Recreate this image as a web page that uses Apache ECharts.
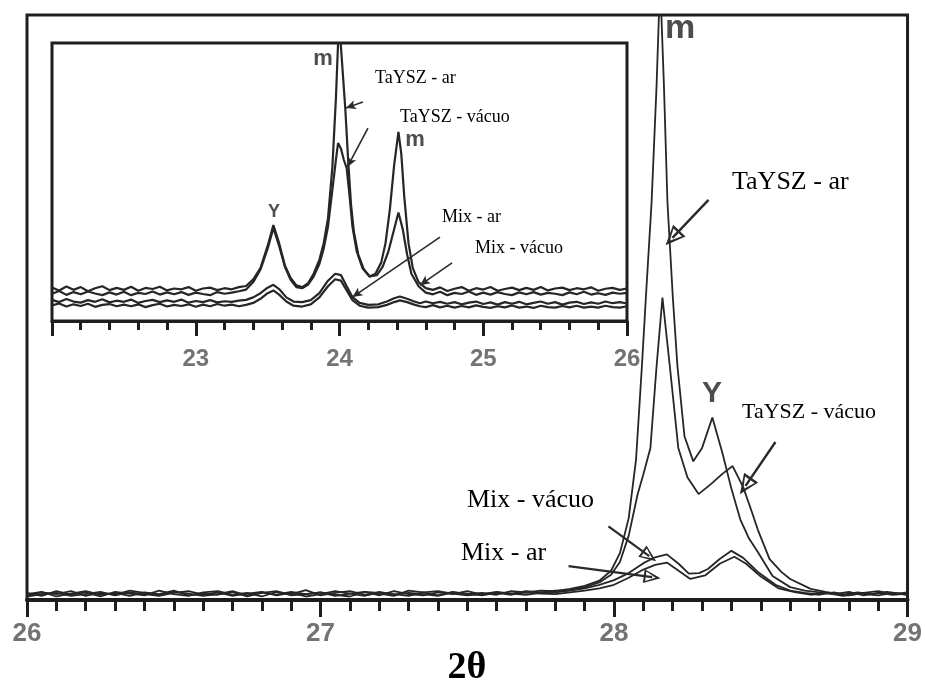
<!DOCTYPE html>
<html>
<head>
<meta charset="utf-8">
<script src="https://cdn.jsdelivr.net/npm/echarts@6.0.0/dist/echarts.min.js"></script>
<style>html,body{margin:0;padding:0;background:#fff;}#c{width:925px;height:691px;}</style>
</head>
<body>
<div id="c"></div>
<script>
// ---------- Main panel (2θ 26–29) ----------
const mainTaYSZAr = [
[26.00,1.2],[26.05,0.7],[26.10,1.5],[26.15,0.9],[26.20,1.3],[26.25,0.6],[26.30,1.4],[26.35,1.1],[26.40,0.8],[26.45,1.6],[26.50,1.0],[26.55,0.7],[26.60,1.3],[26.65,1.5],[26.70,0.9],[26.75,1.2],[26.80,0.6],[26.85,1.4],[26.90,1.0],[26.95,1.7],[27.00,0.8],[27.05,1.2],[27.10,1.5],[27.15,0.9],[27.20,1.1],[27.25,0.7],[27.30,1.6],[27.35,1.3],[27.40,0.8],[27.45,1.4],[27.50,1.0],[27.55,1.2],[27.60,0.9],[27.65,1.5],[27.70,1.3],[27.75,1.6],
[27.80,1.5],[27.85,1.9],[27.90,2.4],[27.95,3.3],[27.99,5.0],[28.02,8.0],[28.05,14],[28.075,24],[28.095,40],[28.11,53],[28.128,68],[28.145,88],[28.157,106],[28.17,88],[28.182,68],[28.20,52],[28.216,40],[28.24,28],[28.27,23.7],[28.30,26],[28.335,31.2],[28.37,25],[28.40,19],[28.43,13.8],[28.46,10.5],[28.49,8.2],[28.54,4.1],[28.60,2.2],[28.65,1.6],[28.70,1.3],[28.75,1.0],[28.80,1.4],[28.85,0.8],[28.90,1.2],[28.95,0.9],[29.00,1.1]
];
const mainTaYSZVac = [
[26.00,0.8],[26.05,1.3],[26.10,1.0],[26.15,1.5],[26.20,0.7],[26.25,1.2],[26.30,0.9],[26.35,1.6],[26.40,1.2],[26.45,0.8],[26.50,1.4],[26.55,1.1],[26.60,0.7],[26.65,1.0],[26.70,1.5],[26.75,0.8],[26.80,1.3],[26.85,0.9],[26.90,1.4],[26.95,1.0],[27.00,1.3],[27.05,0.7],[27.10,1.1],[27.15,1.4],[27.20,0.8],[27.25,1.5],[27.30,1.0],[27.35,0.8],[27.40,1.3],[27.45,1.0],[27.50,1.5],[27.55,0.9],[27.60,1.3],[27.65,1.1],[27.70,1.5],[27.75,1.3],
[27.80,1.6],[27.85,1.7],[27.90,2.2],[27.95,3.0],[27.99,4.3],[28.02,6.5],[28.05,11],[28.08,18],[28.10,21.5],[28.124,26],[28.145,40],[28.165,51.7],[28.19,40],[28.219,26],[28.25,21],[28.288,18.1],[28.33,19.8],[28.37,21.6],[28.404,22.9],[28.44,19.3],[28.47,15],[28.49,12],[28.53,7],[28.57,4.8],[28.60,3.6],[28.67,1.9],[28.72,1.4],[28.78,0.9],[28.83,1.3],[28.88,1.0],[28.93,1.4],[29.00,0.9]
];
const mainMixVac = [
[26.00,1.0],[26.05,1.4],[26.10,0.6],[26.15,1.1],[26.20,1.5],[26.25,0.9],[26.30,1.2],[26.35,0.7],[26.40,1.3],[26.45,1.0],[26.50,1.6],[26.55,0.8],[26.60,1.1],[26.65,0.9],[26.70,1.4],[26.75,0.6],[26.80,1.2],[26.85,1.5],[26.90,0.8],[26.95,1.0],[27.00,1.3],[27.05,0.9],[27.10,0.6],[27.15,1.4],[27.20,1.2],[27.25,1.0],[27.30,0.7],[27.35,1.3],[27.40,1.5],[27.45,1.1],[27.50,0.8],[27.55,1.0],[27.60,1.4],[27.65,1.1],[27.70,0.9],[27.75,1.2],
[27.80,1.3],[27.85,1.6],[27.90,2.0],[27.95,2.6],[28.00,3.4],[28.05,4.6],[28.10,6.3],[28.14,7.3],[28.18,7.8],[28.22,6.2],[28.255,4.5],[28.29,4.6],[28.32,5.3],[28.36,7.0],[28.40,8.4],[28.44,7.2],[28.49,4.8],[28.55,2.6],[28.60,1.6],[28.65,1.2],[28.70,0.9],[28.75,1.3],[28.80,0.8],[28.85,1.2],[28.90,1.5],[28.95,1.0],[29.00,1.3]
];
const mainMixAr = [
[26.00,0.6],[26.05,1.0],[26.10,1.2],[26.15,0.7],[26.20,1.0],[26.25,1.4],[26.30,0.8],[26.35,1.3],[26.40,1.0],[26.45,0.7],[26.50,1.2],[26.55,1.5],[26.60,0.9],[26.65,1.3],[26.70,0.7],[26.75,1.1],[26.80,1.4],[26.85,0.8],[26.90,1.2],[26.95,0.6],[27.00,1.0],[27.05,1.5],[27.10,1.1],[27.15,0.7],[27.20,1.4],[27.25,0.9],[27.30,1.2],[27.35,1.0],[27.40,0.7],[27.45,1.3],[27.50,1.1],[27.55,0.8],[27.60,1.2],[27.65,0.9],[27.70,1.3],[27.75,1.1],
[27.80,1.0],[27.85,1.3],[27.90,1.6],[27.95,2.0],[28.00,2.6],[28.05,3.8],[28.10,5.2],[28.14,6.0],[28.18,6.4],[28.22,5.0],[28.26,3.6],[28.31,4.2],[28.36,6.2],[28.41,7.4],[28.45,6.2],[28.50,4.0],[28.56,2.0],[28.62,1.3],[28.67,0.9],[28.72,1.2],[28.78,0.7],[28.84,1.1],[28.90,0.8],[28.95,1.2],[29.00,0.9]
];

// ---------- Inset panel (2θ 22–26) ----------
const insetTaYSZAr = [
[22.00,12.0],[22.05,11.0],[22.10,12.4],[22.15,11.2],[22.20,12.2],[22.25,10.7],[22.30,11.8],[22.35,12.5],[22.40,11.1],[22.45,11.9],[22.50,11.2],[22.55,12.3],[22.60,10.9],[22.65,11.9],[22.70,11.5],[22.75,12.3],[22.80,11.0],[22.85,11.7],[22.90,11.4],[22.95,12.2],[23.00,10.9],[23.05,11.7],[23.10,12.0],[23.15,11.1],[23.20,11.8],[23.25,11.4],[23.30,12.2],[23.35,12.6],
[23.40,15],[23.45,19],[23.50,27],[23.54,34.5],[23.58,28],[23.62,20],[23.66,15.5],[23.70,12.8],[23.74,12.2],[23.78,13.5],[23.82,17],[23.86,22],[23.89,28],[23.92,37],[23.95,55],[23.975,80],[23.99,100],[24.00,106],[24.015,95],[24.04,76.6],[24.06,58],[24.08,42],[24.10,32],[24.13,24],[24.17,18.5],[24.21,16],[24.25,17],[24.29,21],[24.32,28],[24.35,40],[24.38,56],[24.41,68],[24.43,60],[24.45,45],[24.48,28],[24.51,19],[24.55,14],
[24.60,11.8],[24.65,11.2],[24.70,12.1],[24.75,10.8],[24.80,11.6],[24.85,12.2],[24.90,10.9],[24.95,11.8],[25.00,11.3],[25.05,12.2],[25.10,10.9],[25.15,11.5],[25.20,12.0],[25.25,11.1],[25.30,11.9],[25.35,11.2],[25.40,12.2],[25.45,11.0],[25.50,11.7],[25.55,12.0],[25.60,11.1],[25.65,11.8],[25.70,11.4],[25.75,12.1],[25.80,10.9],[25.85,11.6],[25.90,11.9],[25.95,11.2],[26.00,11.7]
];
const insetTaYSZVac = [
[22.00,9.8],[22.05,10.8],[22.10,9.4],[22.15,10.4],[22.20,9.6],[22.25,10.6],[22.30,9.9],[22.35,9.3],[22.40,10.3],[22.45,9.5],[22.50,10.5],[22.55,9.3],[22.60,10.1],[22.65,9.7],[22.70,10.6],[22.75,9.5],[22.80,10.3],[22.85,9.6],[22.90,10.4],[22.95,9.4],[23.00,10.2],[23.05,9.7],[23.10,9.3],[23.15,10.4],[23.20,9.8],[23.25,10.2],[23.30,10.7],[23.35,11.3],
[23.40,14],[23.45,18.5],[23.50,26],[23.54,33.5],[23.58,27],[23.62,19.5],[23.66,14.8],[23.70,12.2],[23.74,11.8],[23.78,13],[23.82,16],[23.86,20.5],[23.89,26],[23.92,34],[23.95,47],[23.975,58],[23.99,64],[24.01,62],[24.03,58],[24.05,55],[24.07,45],[24.09,34],[24.12,25],[24.16,19],[24.21,16],[24.26,16.5],[24.30,19.5],[24.34,25],[24.38,33],[24.41,39],[24.44,33],[24.47,24],[24.50,17],[24.55,12.5],
[24.60,10.2],[24.65,9.6],[24.70,10.5],[24.75,9.3],[24.80,10.1],[24.85,9.7],[24.90,10.6],[24.95,9.4],[25.00,10.2],[25.05,9.5],[25.10,10.4],[25.15,9.7],[25.20,9.3],[25.25,10.3],[25.30,9.6],[25.35,10.4],[25.40,9.5],[25.45,10.1],[25.50,9.8],[25.55,9.3],[25.60,10.3],[25.65,9.6],[25.70,10.5],[25.75,9.5],[25.80,10.0],[25.85,9.4],[25.90,10.2],[25.95,9.8],[26.00,10.1]
];
const insetMixAr = [
[22.00,7.6],[22.05,6.8],[22.10,7.9],[22.15,7.0],[22.20,6.6],[22.25,7.5],[22.30,6.9],[22.35,7.8],[22.40,6.7],[22.45,7.3],[22.50,6.9],[22.55,7.7],[22.60,6.5],[22.65,7.2],[22.70,7.6],[22.75,6.8],[22.80,7.4],[22.85,6.9],[22.90,7.7],[22.95,6.6],[23.00,7.2],[23.05,6.8],[23.10,7.5],[23.15,6.7],[23.20,7.1],[23.25,6.9],[23.30,7.3],[23.35,7.6],
[23.40,8.5],[23.45,10],[23.50,12],[23.54,13],[23.58,11.5],[23.63,8.5],[23.68,7],[23.74,6.8],[23.80,7.5],[23.86,10],[23.92,14.5],[23.97,17],[24.01,16.5],[24.05,12.5],[24.09,8.6],[24.14,6.5],[24.20,5.8],[24.27,6],[24.33,7],[24.38,8.2],[24.42,8.8],[24.47,8],[24.52,7],[24.56,6.4],
[24.60,7.0],[24.65,6.4],[24.70,6.9],[24.75,6.2],[24.80,6.8],[24.85,6.0],[24.90,6.6],[24.95,7.0],[25.00,6.1],[25.05,6.7],[25.10,5.9],[25.15,6.8],[25.20,6.2],[25.25,6.9],[25.30,6.0],[25.35,6.5],[25.40,7.0],[25.45,6.2],[25.50,6.8],[25.55,5.9],[25.60,6.6],[25.65,6.9],[25.70,6.1],[25.75,6.7],[25.80,6.2],[25.85,7.0],[25.90,6.4],[25.95,6.8],[26.00,6.3]
];
const insetMixVac = [
[22.00,5.6],[22.05,6.3],[22.10,5.2],[22.15,6.0],[22.20,5.4],[22.25,6.2],[22.30,5.1],[22.35,5.8],[22.40,6.1],[22.45,5.3],[22.50,5.9],[22.55,5.3],[22.60,6.0],[22.65,5.0],[22.70,5.7],[22.75,6.2],[22.80,5.2],[22.85,5.8],[22.90,5.4],[22.95,6.0],[23.00,5.1],[23.05,5.9],[23.10,5.3],[23.15,6.1],[23.20,5.5],[23.25,5.9],[23.30,5.3],[23.35,5.8],
[23.40,6.5],[23.45,8],[23.50,10],[23.54,11],[23.58,9.5],[23.63,7],[23.68,5.5],[23.74,5.2],[23.80,6],[23.86,8.5],[23.92,12.5],[23.97,15],[24.01,14.5],[24.05,11],[24.09,7.5],[24.14,5.5],[24.20,4.8],[24.27,5],[24.33,5.8],[24.38,6.8],[24.42,7.4],[24.47,6.8],[24.52,5.9],[24.56,5.3],
[24.60,5.0],[24.65,5.7],[24.70,4.9],[24.75,5.5],[24.80,4.8],[24.85,5.4],[24.90,4.9],[24.95,5.6],[25.00,5.1],[25.05,4.7],[25.10,5.3],[25.15,4.9],[25.20,5.6],[25.25,4.8],[25.30,5.2],[25.35,4.7],[25.40,5.5],[25.45,5.0],[25.50,4.8],[25.55,5.4],[25.60,4.9],[25.65,5.5],[25.70,4.8],[25.75,5.2],[25.80,4.8],[25.85,5.5],[25.90,5.0],[25.95,4.8],[26.00,5.3]
];

// Axis tick values
const mainTicks = [26, 27, 28, 29];
const insetTicks = [23, 24, 25, 26];

// Annotation arrows (data coordinates: [from, to])
const mainArrowTaYSZAr  = [[28.322, 68.4], [28.199, 61.9]];
const mainArrowTaYSZVac = [[28.550, 27.0], [28.448, 19.5]];
const mainArrowMixVac   = [[27.981, 12.6], [28.120, 7.5]];
const mainArrowMixAr    = [[27.845, 5.8], [28.130, 3.9]];
const insetArrowTaYSZAr  = [[24.163, 78.8], [24.045, 76.6]];
const insetArrowTaYSZVac = [[24.198, 69.4], [24.055, 55.4]];
const insetArrowMixAr    = [[24.699, 30.2], [24.090, 8.6]];
const insetArrowMixVac   = [[24.783, 20.9], [24.560, 12.9]];

const INK = '#1e1e1e';
const hollowHead = 'path://M50,0 L100,100 L0,100 Z M50,30 L16,88 L84,88 Z';

function mlMulti(list, head, size, width) {
  return {
    silent: true, animation: false,
    symbol: ['none', head], symbolSize: size,
    lineStyle: { color: '#2a2a2a', width: width, type: 'solid' },
    label: { show: false }, emphasis: { disabled: true },
    data: list.map(a => [{ coord: a[0] }, { coord: a[1] }])
  };
}

function lineSeries(name, data, xi, width, ml) {
  const s = {
    name, type: 'line', xAxisIndex: xi, yAxisIndex: xi, data,
    showSymbol: false, symbol: 'none', smooth: false, clip: true,
    lineStyle: { color: '#262626', width: width },
    emphasis: { disabled: true }, animation: false, z: 3
  };
  if (ml) s.markLine = ml;
  return s;
}

function xAxisCfg(grid, min, max, ticks, split, majorLen, minorLen, fontSize, margin, lineW) {
  return {
    gridIndex: grid, type: 'value', min, max, interval: 1,
    axisLine: { show: true, onZero: false, lineStyle: { color: INK, width: lineW } },
    axisTick: { show: true, length: majorLen, lineStyle: { color: INK, width: 3 } },
    minorTick: { show: true, splitNumber: split, length: minorLen, lineStyle: { color: INK, width: 3 } },
    splitLine: { show: false }, minorSplitLine: { show: false },
    axisLabel: {
      margin, fontSize, fontWeight: 'bold', color: '#737373', fontFamily: 'Liberation Sans',
      formatter: v => (ticks.indexOf(v) >= 0 ? String(v) : '')
    }
  };
}

const serif = 'Liberation Serif';
function label(text, x, y, size, pad) {
  return {
    type: 'text', x, y, z: 100,
    style: {
      text, font: size + 'px "' + serif + '"', fill: '#000',
      align: 'left', verticalAlign: 'middle',
      backgroundColor: '#fff', padding: pad || [2, 3]
    }
  };
}
function mark(text, x, y, size) {
  return {
    type: 'text', x, y, z: 100,
    style: {
      text, font: 'bold ' + size + 'px "Liberation Sans"', fill: '#4d4d4d',
      align: 'center', verticalAlign: 'middle'
    }
  };
}

const chart = echarts.init(document.getElementById('c'), null, { renderer: 'canvas' });
chart.setOption({
  animation: false,
  backgroundColor: '#fff',
  grid: [
    { left: 27, right: 17, top: 15, bottom: 91, show: true, borderColor: INK, borderWidth: 3, backgroundColor: 'transparent' },
    { left: 52, right: 298, top: 43, bottom: 370, show: true, borderColor: INK, borderWidth: 3, backgroundColor: '#fff' }
  ],
  xAxis: [
    xAxisCfg(0, 26, 29, mainTicks, 10, 17, 11, 26, 21, 4),
    xAxisCfg(1, 22, 26, insetTicks, 5, 15, 9, 24, 26, 3)
  ],
  yAxis: [
    { gridIndex: 0, type: 'value', min: 0, max: 100, show: false },
    { gridIndex: 1, type: 'value', min: 0, max: 100, show: false }
  ],
  series: [
    lineSeries('TaYSZ - ar', mainTaYSZAr, 0, 1.8, mlMulti([mainArrowTaYSZAr, mainArrowTaYSZVac], hollowHead, [17, 20], 2.4)),
    lineSeries('TaYSZ - vácuo', mainTaYSZVac, 0, 1.8),
    lineSeries('Mix - vácuo', mainMixVac, 0, 1.8, mlMulti([mainArrowMixVac, mainArrowMixAr], hollowHead, [14, 17], 2.2)),
    lineSeries('Mix - ar', mainMixAr, 0, 1.8),
    lineSeries('TaYSZ - ar (inset)', insetTaYSZAr, 1, 2.2, mlMulti([insetArrowTaYSZAr, insetArrowTaYSZVac, insetArrowMixAr, insetArrowMixVac], 'arrow', [7, 10], 1.6)),
    lineSeries('TaYSZ - vácuo (inset)', insetTaYSZVac, 1, 2.2),
    lineSeries('Mix - ar (inset)', insetMixAr, 1, 2.2),
    lineSeries('Mix - vácuo (inset)', insetMixVac, 1, 2.2)
  ],
  graphic: [
    label('TaYSZ - ar', 729, 182, 26, [4, 3]),
    label('TaYSZ - vácuo', 739, 412, 22, [4, 3]),
    label('Mix - vácuo', 464, 500, 26, [4, 3]),
    label('Mix - ar', 458, 553, 26, [4, 3]),
    mark('m', 680, 29, 34),
    mark('Y', 712, 394, 30),
    label('TaYSZ - ar', 373, 78, 18, [2, 2]),
    label('TaYSZ - vácuo', 398, 117, 18, [2, 2]),
    label('Mix - ar', 440, 217, 18, [2, 2]),
    label('Mix - vácuo', 473, 248, 18, [2, 2]),
    mark('m', 323, 59, 22),
    mark('m', 415, 140, 22),
    mark('Y', 274, 212, 18),
    {
      type: 'text', x: 467, y: 668, z: 100,
      style: { text: '2θ', font: 'bold 38px "Liberation Serif"', fill: '#000', align: 'center', verticalAlign: 'middle' }
    }
  ]
});
</script>
</body>
</html>
